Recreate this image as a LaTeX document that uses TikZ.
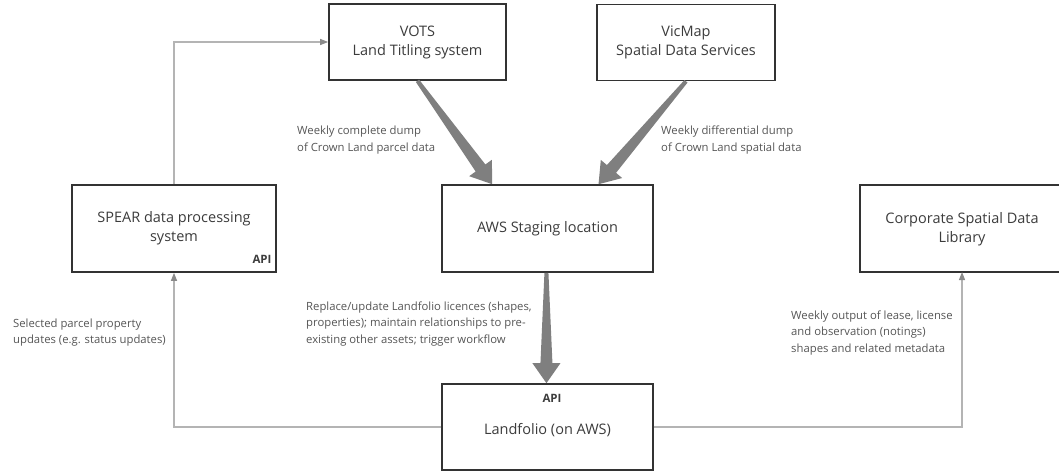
\documentclass[tikz,border=0pt]{standalone}
\usepackage{fontspec}
\setmainfont{Open Sans}
\usetikzlibrary{calc,arrows.meta}
\definecolor{boxline}{HTML}{333333}
\definecolor{boxtext}{HTML}{3C3C3C}
\definecolor{labeltext}{HTML}{555555}
\definecolor{fatgray}{HTML}{7F7F7F}
\definecolor{thingray}{HTML}{B4B4B4}
\definecolor{tipgray}{HTML}{8A8A8A}
\tikzset{
  sysbox/.style={draw=boxline,line width=1.6pt,fill=white,text=boxtext,align=center,
    font=\fontsize{14.5}{19}\selectfont,inner sep=0pt},
  lbl/.style={text=labeltext,align=left,anchor=west,inner sep=0pt,
    font=\fontsize{11.3}{16.8}\selectfont},
  apilbl/.style={text=boxtext,inner sep=0pt,font=\fontsize{11.5}{14}\selectfont\bfseries},
  thinconn/.style={draw=thingray,line width=1.1pt,
    -{Triangle[length=8pt,width=6pt,color=tipgray]}},
  fat/.style={fill=fatgray,draw=none}
}
\newcommand\fatarrow[2]{%
  \fill[fat] ($(#1)!2pt!90:(#2)$) -- ($($(#2)!20pt!(#1)$)!6pt!-90:(#1)$)
    -- ($($(#2)!20pt!(#1)$)!14pt!-90:(#1)$) -- (#2)
    -- ($($(#2)!20pt!(#1)$)!14pt!90:(#1)$) -- ($($(#2)!20pt!(#1)$)!6pt!90:(#1)$)
    -- ($(#1)!2pt!-90:(#2)$) -- cycle;}
\begin{document}
\begin{tikzpicture}[x=1pt,y=-1pt]
\useasboundingbox (0,0) rectangle (1059,471);
\clip (0,0) rectangle (1059,471);
% boxes
\node[sysbox,minimum width=177pt,minimum height=76pt] (vots) at (417.5,42) {VOTS\\Land Titling system};
\node[sysbox,minimum width=178pt,minimum height=76pt] (vicmap) at (686,42.5) {VicMap\\Spatial Data Services};
\node[sysbox,minimum width=204pt,minimum height=87pt] (spear) at (174,228.5) {SPEAR data processing\\system};
\node[sysbox,minimum width=211pt,minimum height=87pt] (aws) at (547.5,228.5) {AWS Staging location};
\node[sysbox,minimum width=220pt,minimum height=87pt,anchor=west] (csdl) at (859,228.5) {};
\node[text=boxtext,align=center,font=\fontsize{14.5}{19}\selectfont,inner sep=0pt] (csdltxt) at (962,229) {Corporate Spatial Data\\Library};
\node[sysbox,minimum width=211pt,minimum height=86pt] (land) at (547.5,427) {\\[-2pt]Landfolio (on AWS)};
% API labels
\node[apilbl] (spearapi) at (262,259.5) {API};
\node[apilbl] (landapi) at (552,398) {API};
% fat arrows
\coordinate (votsout) at (vots.south);
\coordinate (awsinA) at ($(aws.north west)!0.24!(aws.north east)$);
\coordinate (vicout) at (vicmap.south);
\coordinate (awsinB) at ($(aws.north west)!0.74!(aws.north east)$);
\coordinate (awsout) at ($(aws.south west)!0.495!(aws.south east)$);
\coordinate (landin) at ($(land.north west)!0.495!(land.north east)$);
\fatarrow{votsout}{awsinA}
\fatarrow{vicout}{awsinB}
\fatarrow{awsout}{landin}
% thin connectors
\draw[thinconn] (spear.north) |- (vots.west);
\coordinate (landl) at ($(land.north west)!0.5!(land.south west)$);
\coordinate (landr) at ($(land.north east)!0.5!(land.south east)$);
\coordinate (csdlin) at (962,272);
\draw[thinconn] (landl) -| (spear.south);
\draw[thinconn] (landr) -| (csdlin);
% labels
\node[lbl] (l1) at (297,140) {Weekly complete dump\\of Crown Land parcel data};
\node[lbl] (l2) at (661,140) {Weekly differential dump\\of Crown Land spatial data};
\node[lbl] (l3) at (306,324) {Replace/update Landfolio licences (shapes,\\properties); maintain relationships to pre-\\existing other assets; trigger workflow};
\node[lbl] (l4) at (13,332.5) {Selected parcel property\\updates (e.g. status updates)};
\node[lbl] (l5) at (791,333) {Weekly output of lease, license\\and observation (notings)\\shapes and related metadata};
\end{tikzpicture}
\end{document}
